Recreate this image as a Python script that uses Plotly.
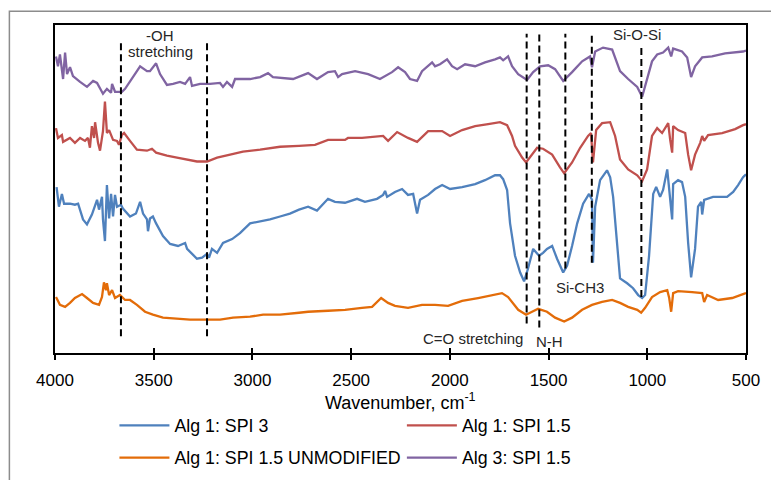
import plotly.graph_objects as go

# ---------------- data (wavenumber in cm-1, transmittance in arbitrary offset units) ----------------
purple_x = [3995, 3985, 3975, 3959, 3949, 3939, 3924, 3909, 3873, 3838, 3807, 3787, 3757, 3737, 3716, 3711,
            3696, 3661, 3645, 3610, 3569, 3534, 3519, 3488, 3468, 3433, 3402, 3367, 3341, 3316, 3306, 3265,
            3215, 3164, 3149, 3129, 3103, 3088, 3012, 2961, 2921, 2896, 2845, 2794, 2718, 2673, 2617, 2582,
            2566, 2546, 2480, 2414, 2354, 2293, 2262, 2227, 2202, 2166, 2141, 2110, 2090, 2075, 2050, 2014,
            1989, 1963, 1923, 1872, 1822, 1771, 1746, 1730, 1705, 1685, 1654, 1609, 1578, 1543, 1502, 1467,
            1426, 1381, 1330, 1290, 1280, 1264, 1224, 1178, 1138, 1097, 1051, 1026, 1001, 976, 950, 920,
            894, 879, 869, 824, 798, 778, 758, 722, 672, 606, 515, 500]
purple_y = [302, 292, 304, 279, 306, 284, 291, 282, 276, 271, 277, 275, 264, 269, 265, 274,
            266, 266, 269, 279, 292, 287, 287, 295, 284, 273, 274, 276, 274, 281, 272, 274,
            274, 275, 271, 276, 271, 279, 279, 281, 285, 281, 280, 279, 285, 279, 286, 287,
            281, 284, 287, 284, 279, 286, 291, 286, 279, 277, 287, 292, 296, 292, 294, 299,
            292, 289, 294, 292, 296, 299, 301, 298, 302, 292, 284, 278, 286, 292, 293, 289,
            277, 286, 297, 302, 291, 307, 311, 309, 287, 279, 271, 261, 279, 297, 304, 306,
            311, 302, 310, 307, 301, 281, 292, 301, 302, 305, 307, 308]

red_x = [3995, 3985, 3965, 3959, 3924, 3899, 3873, 3848, 3833, 3823, 3813, 3802, 3797, 3782, 3772, 3757,
         3747, 3737, 3726, 3706, 3686, 3676, 3661, 3650, 3620, 3585, 3534, 3509, 3488, 3458, 3433, 3382,
         3331, 3281, 3230, 3179, 3113, 3048, 2961, 2860, 2764, 2683, 2617, 2531, 2516, 2445, 2338, 2313,
         2267, 2212, 2166, 2110, 2039, 1999, 1938, 1872, 1806, 1746, 1710, 1685, 1670, 1634, 1614, 1584,
         1558, 1528, 1482, 1442, 1421, 1381, 1340, 1300, 1285, 1275, 1259, 1229, 1188, 1163, 1138, 1097,
         1051, 1026, 1001, 976, 950, 925, 894, 884, 874, 869, 844, 808, 793, 778, 758, 732,
         722, 712, 692, 621, 555, 515, 500]
red_y = [229, 219, 222, 215, 219, 214, 219, 216, 219, 209, 231, 219, 235, 214, 206, 226,
         256, 224, 227, 217, 216, 212, 222, 224, 216, 207, 206, 208, 204, 202, 201, 199,
         197, 195, 195, 199, 202, 205, 207, 210, 211, 212, 217, 217, 219, 219, 221, 216,
         225, 219, 215, 226, 226, 221, 227, 231, 233, 235, 232, 221, 211, 199, 194, 202,
         209, 208, 202, 189, 183, 194, 209, 221, 224, 194, 227, 234, 235, 221, 197, 187,
         181, 175, 187, 221, 229, 224, 234, 217, 204, 231, 227, 224, 202, 186, 202, 214,
         221, 216, 222, 224, 228, 232, 233]

blue_x = [3992, 3980, 3965, 3954, 3924, 3899, 3883, 3858, 3838, 3813, 3787, 3777, 3762, 3757, 3747, 3737,
          3726, 3716, 3706, 3696, 3686, 3666, 3656, 3620, 3590, 3569, 3554, 3534, 3529, 3519, 3504, 3488,
          3453, 3417, 3377, 3341, 3331, 3306, 3281, 3255, 3230, 3220, 3205, 3179, 3149, 3103, 3063, 3012,
          2961, 2911, 2860, 2810, 2764, 2749, 2718, 2673, 2617, 2582, 2531, 2470, 2430, 2369, 2338, 2328,
          2318, 2278, 2242, 2212, 2186, 2166, 2151, 2110, 2075, 2039, 1999, 1938, 1872, 1822, 1771, 1746,
          1730, 1710, 1695, 1670, 1644, 1624, 1604, 1578, 1558, 1548, 1528, 1508, 1482, 1457, 1426, 1406,
          1381, 1355, 1325, 1295, 1280, 1275, 1264, 1239, 1204, 1188, 1173, 1153, 1138, 1102, 1072, 1046,
          1026, 1011, 991, 970, 955, 935, 920, 899, 884, 874, 869, 844, 824, 808, 793, 778,
          758, 743, 727, 722, 712, 667, 596, 565, 540, 515, 500]
blue_y = [169, 149, 162, 152, 152, 151, 152, 136, 131, 141, 156, 146, 159, 136, 114, 171,
          137, 162, 139, 161, 149, 151, 147, 139, 142, 154, 142, 136, 124, 137, 139, 132,
          119, 111, 109, 112, 106, 101, 96, 97, 101, 97, 106, 102, 112, 116, 122, 132,
          134, 136, 139, 142, 146, 147, 149, 145, 157, 154, 153, 157, 154, 157, 161, 165,
          159, 164, 167, 161, 162, 142, 156, 161, 167, 171, 167, 169, 172, 176, 181, 181,
          177, 166, 132, 99, 82, 73, 86, 106, 102, 99, 102, 106, 109, 96, 82, 89,
          109, 132, 152, 162, 156, 92, 149, 176, 186, 179, 159, 106, 76, 71, 66, 59,
          56, 59, 99, 162, 169, 159, 166, 187, 159, 136, 172, 176, 174, 159, 112, 77,
          106, 149, 154, 141, 156, 159, 159, 164, 171, 179, 182]

orange_x = [3995, 3975, 3949, 3924, 3899, 3863, 3838, 3807, 3777, 3762, 3752, 3742, 3737, 3726, 3711, 3696,
            3671, 3645, 3620, 3585, 3544, 3504, 3453, 3382, 3316, 3230, 3164, 3098, 3012, 2946, 2860, 2764,
            2718, 2617, 2531, 2445, 2394, 2348, 2313, 2278, 2212, 2141, 2075, 2009, 1938, 1857, 1786, 1736,
            1705, 1685, 1654, 1614, 1584, 1553, 1508, 1467, 1421, 1381, 1330, 1280, 1229, 1178, 1138, 1097,
            1051, 1031, 1011, 976, 935, 899, 889, 879, 869, 844, 773, 722, 712, 697, 641, 570,
            515, 500]
orange_y = [57, 49, 47, 51, 56, 60, 56, 51, 49, 57, 72, 64, 71, 59, 64, 56,
            59, 54, 54, 49, 42, 39, 36, 35, 34, 34, 34, 36, 37, 39, 39, 41,
            42, 43, 44, 46, 47, 56, 51, 48, 46, 49, 49, 48, 53, 56, 59, 61,
            57, 52, 44, 39, 42, 45, 42, 36, 32, 36, 44, 49, 52, 54, 51, 47,
            44, 41, 46, 57, 62, 64, 56, 42, 61, 63, 62, 61, 52, 59, 54, 56,
            60, 61]

# marker lines: wavenumber, lower and upper end
band_x = [3666, 3230, 1611, 1547, 1415, 1281, 1030]
band_lo = [17, 17, 30, 26, 86, 92, 57]
band_hi = [317, 317, 325, 325, 325, 325, 314]

series = [
    ("Alg 1: SPI 3", blue_x, blue_y, "#4F81BD", "legend"),
    ("Alg 1: SPI 1.5", red_x, red_y, "#C0504D", "legend2"),
    ("Alg 1: SPI 1.5 UNMODIFIED", orange_x, orange_y, "#E36C09", "legend3"),
    ("Alg 3: SPI 1.5", purple_x, purple_y, "#8064A2", "legend4"),
]

FONT = "Liberation Sans, Arial, sans-serif"

fig = go.Figure()
for name, xs, ys, col, lg in series:
    fig.add_trace(go.Scatter(x=xs, y=ys, mode="lines", name=name, legend=lg,
                             line=dict(color=col, width=2.3)))

for bx, lo, hi in zip(band_x, band_lo, band_hi):
    fig.add_trace(go.Scatter(x=[bx, bx], y=[lo, hi], mode="lines", xaxis="x2", showlegend=False,
                             hoverinfo="skip", line=dict(color="black", width=2, dash="7px,4px")))

ann = [
    ("-OH", 3468, 323), ("stretching", 3468, 307), ("Si-O-Si", 1051, 324),
    ("Si-CH3", 1340, 67), ("C=O stretching", 1882, 15), ("N-H", 1497, 12),
]
for t, ax, ay in ann:
    fig.add_annotation(x=ax, y=ay, text=t, showarrow=False, xref="x", yref="y",
                       yanchor="middle", xanchor="center",
                       font=dict(size=15, color="#262626", family=FONT))

fig.add_annotation(x=0.5, y=-0.147, xref="paper", yref="paper", showarrow=False,
                   xanchor="center", yanchor="middle",
                   text="Wavenumber, cm<sup>-1</sup>", font=dict(size=18, color="#000", family=FONT))

# outer chart border
fig.add_shape(type="rect", xref="paper", yref="paper", x0=-0.066, x1=1.042, y0=-0.45, y1=1.042,
              line=dict(color="#8c8c8c", width=1.5), layer="below")

leg_common = dict(orientation="h", xanchor="left", yanchor="middle", bgcolor="rgba(0,0,0,0)",
                  font=dict(size=17.8, color="#000", family=FONT), itemwidth=50)
fig.update_layout(
    width=779, height=480,
    margin=dict(l=47, r=41, t=17, b=129),
    paper_bgcolor="white", plot_bgcolor="white",
    font=dict(family=FONT, size=17, color="#000"),
    xaxis=dict(range=[4000, 500], tick0=500, dtick=500, showgrid=False, zeroline=False,
               showline=True, mirror=True, linecolor="black", linewidth=2,
               ticks="outside", ticklen=5, tickwidth=1.5, tickcolor="black",
               tickfont=dict(size=17, color="#000", family=FONT), ticklabelstandoff=6),
    xaxis2=dict(overlaying="x", matches="x", anchor="y", side="bottom", range=[4000, 500],
                tick0=500, dtick=500, showgrid=False, zeroline=False, showline=False,
                ticks="inside", ticklen=5, tickwidth=1.5, tickcolor="black", showticklabels=False),
    yaxis=dict(range=[0, 334], showgrid=False, zeroline=False, showticklabels=False, ticks="",
               showline=True, mirror=True, linecolor="black", linewidth=2),
    legend=dict(x=0.086, y=-0.222, **leg_common),
    legend2=dict(x=0.502, y=-0.222, **leg_common),
    legend3=dict(x=0.086, y=-0.320, **leg_common),
    legend4=dict(x=0.502, y=-0.320, **leg_common),
    showlegend=True,
)

fig.write_html("out.html")
